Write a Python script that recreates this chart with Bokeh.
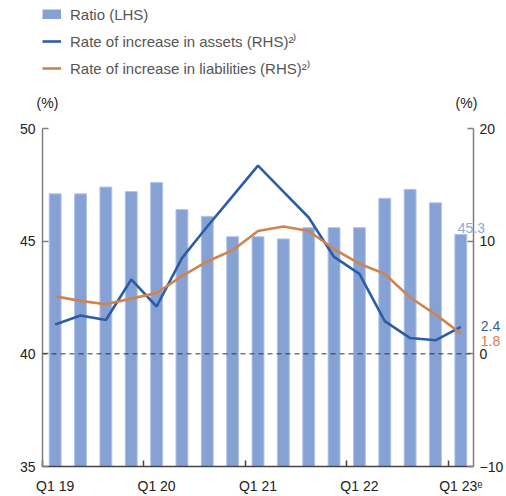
from bokeh.plotting import figure
from bokeh.layouts import column
from bokeh.models import (Range1d, LinearAxis, FixedTicker, Span,
                          Legend, LegendItem, ColumnDataSource)
from bokeh.core.properties import value
from bokeh.embed import file_html
from bokeh.resources import INLINE

# Quarterly series, Q1 2019 - Q1 2023 (last quarter is an estimate)
quarters = ["Q1 19", "Q2 19", "Q3 19", "Q4 19",
            "Q1 20", "Q2 20", "Q3 20", "Q4 20",
            "Q1 21", "Q2 21", "Q3 21", "Q4 21",
            "Q1 22", "Q2 22", "Q3 22", "Q4 22",
            "Q1 23ᵉ"]
ratio = [47.1, 47.1, 47.4, 47.2, 47.6, 46.4, 46.1, 45.2, 45.2,
         45.1, 45.6, 45.6, 45.6, 46.9, 47.3, 46.7, 45.3]
assets = [2.6, 3.4, 3.0, 6.6, 4.2, 8.5, 11.3, 14.0, 16.7,
          14.4, 12.1, 8.6, 7.1, 2.9, 1.4, 1.2, 2.4]
liabilities = [5.1, 4.7, 4.4, 4.9, 5.4, 6.9, 8.2, 9.2, 10.9,
               11.3, 10.9, 9.3, 8.0, 7.1, 5.0, 3.5, 1.8]

lhs_ticks = [35, 40, 45, 50]
rhs_ticks = [-10, 0, 10, 20]
series_names = ["Ratio (LHS)",
                "Rate of increase in assets (RHS)²⁾",
                "Rate of increase in liabilities (RHS)²⁾"]

BAR = "#86a2d4"
BAR_EDGE = "#b3c5e7"
BLUE = "#2b5da6"
ORANGE = "#cf844f"
FONT = "Liberation Sans"
TICK_SIZE = "14px"

W = 506
HEAD_H = 118      # legend strip above the chart
MAIN_H = 496 - HEAD_H

idx = list(range(len(quarters)))
src = ColumnDataSource(dict(x=idx, ratio=ratio, assets=assets,
                            liabilities=liabilities))
x_range = Range1d(-0.5, len(quarters) - 0.5)

assets_style = dict(x="x", y="assets", source=src, line_color=BLUE,
                    line_width=2.6)
liab_style = dict(x="x", y="liabilities", source=src, line_color=ORANGE,
                  line_width=2.6)

# ---------------------------------------------------------------- main chart
p = figure(width=W, height=MAIN_H, output_backend="svg", toolbar_location=None,
           x_range=x_range, y_range=Range1d(lhs_ticks[0], lhs_ticks[-1]),
           x_axis_type=None, y_axis_type=None,
           min_border_left=42, min_border_right=29,
           min_border_top=10, min_border_bottom=28)
p.outline_line_color = None
p.background_fill_color = "white"
p.border_fill_color = "white"
p.extra_y_ranges = {"rhs": Range1d(rhs_ticks[0], rhs_ticks[-1])}

p.vbar(x="x", top="ratio", bottom=lhs_ticks[0], width=0.47, source=src,
       fill_color=BAR, line_color=BAR_EDGE, line_width=1)
p.add_layout(Span(location=0, dimension="width", y_range_name="rhs",
                  line_color="#333333", line_width=1, line_dash="5 4"))
p.line(y_range_name="rhs", **assets_style)
p.line(y_range_name="rhs", **liab_style)


def style_axis(ax, line_color):
    ax.axis_line_color = line_color
    ax.axis_line_width = 1.5
    ax.major_tick_line_color = line_color
    ax.minor_tick_line_color = line_color
    ax.major_tick_line_width = 1.5
    ax.minor_tick_line_width = 1.5
    ax.major_label_text_font = FONT
    ax.major_label_text_font_size = TICK_SIZE
    ax.major_label_text_color = "#222222"


left = LinearAxis(ticker=FixedTicker(ticks=lhs_ticks),
                  major_tick_in=6, major_tick_out=0,
                  minor_tick_in=0, minor_tick_out=0,
                  major_label_standoff=7)
style_axis(left, "#7f7f7f")
p.add_layout(left, "left")

right = LinearAxis(y_range_name="rhs", ticker=FixedTicker(ticks=rhs_ticks),
                   major_tick_in=6, major_tick_out=0,
                   minor_tick_in=0, minor_tick_out=0,
                   major_label_standoff=6)
style_axis(right, "#7f7f7f")
p.add_layout(right, "right")

year_starts = [i for i in idx if i % 4 == 0]
bottom = LinearAxis(
    ticker=FixedTicker(ticks=year_starts,
                       minor_ticks=[i - 0.5 for i in year_starts]),
    major_tick_in=0, major_tick_out=0,
    minor_tick_in=6, minor_tick_out=0,
    major_label_standoff=11,
    major_label_overrides={i: quarters[i] for i in year_starts})
style_axis(bottom, "#444444")
p.add_layout(bottom, "below")

# end-of-series values, on the overlay level so they can pass the frame edge
last = idx[-1]
ends = ColumnDataSource(dict(
    x=[last, last],
    y=[assets[-1], liabilities[-1]],
    text=[f"{assets[-1]:.1f}", f"{liabilities[-1]:.1f}"],
    dy=[-1, 7],
    color=["#2f5fa6", "#df7a44"],
))
p.text(x="x", y="y", text="text", x_offset=20, y_offset="dy",
       text_align="left", text_baseline="middle", text_color="color",
       text_font=value(FONT), text_font_size=TICK_SIZE,
       source=ends, y_range_name="rhs", level="overlay")
p.text(x=[last], y=[ratio[-1]], text=[f"{ratio[-1]:.1f}"],
       x_offset=-3, y_offset=-6, text_align="left",
       text_baseline="alphabetic", text_color="#8fabdc",
       text_font=value(FONT), text_font_size=TICK_SIZE, level="overlay")

# ------------------------------------------------------- legend strip on top
head = figure(width=W, height=HEAD_H, output_backend="svg",
              toolbar_location=None, x_range=x_range,
              y_range=Range1d(0, HEAD_H), x_axis_type=None, y_axis_type=None,
              min_border=0)
head.outline_line_color = None

# hidden copies of the series that only serve as legend keys;
# the ratio key is a thick stroke so it fills the whole key box
key_bar = head.line(x="x", y="ratio", source=src, visible=False,
                    line_color=BAR, line_width=10, line_cap="butt")
key_a = head.line(visible=False, **assets_style)
key_l = head.line(visible=False, **liab_style)

legend = Legend(items=[
    LegendItem(label=series_names[0], renderers=[key_bar]),
    LegendItem(label=series_names[1], renderers=[key_a]),
    LegendItem(label=series_names[2], renderers=[key_l]),
], location=(0, 40), orientation="vertical",
    glyph_width=19, glyph_height=10, label_height=20, label_standoff=9,
    spacing=7, padding=0, margin=0,
    border_line_alpha=0, background_fill_alpha=0,
    inactive_fill_alpha=0,
    label_text_font=FONT, label_text_font_size="15px",
    label_text_color="#555555")
head.add_layout(legend)

# unit captions over the two value axes
head.text(x=[x_range.start, x_range.end], y=[HEAD_H - 102.5] * 2,
          text=["(%)", "(%)"], x_offset=[5, -7],
          text_align="center", text_baseline="middle", text_color="#222222",
          text_font=value(FONT), text_font_size=TICK_SIZE, level="overlay")

layout = column(head, p, spacing=0)
open("out.html", "w").write(file_html(layout, INLINE))
